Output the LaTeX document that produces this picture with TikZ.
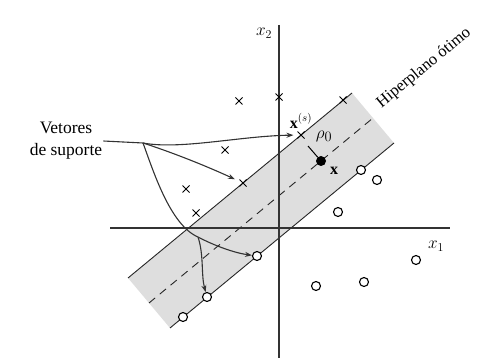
\documentclass[tikz,border=0pt]{standalone}
\usepackage{fontspec}
\setmainfont{Liberation Serif}
\usetikzlibrary{arrows.meta, shapes.misc, calc}
\tikzset{
  axis/.style={line width=1.8pt, draw=black!80},
  margin/.style={line width=0.9pt, draw=black!85},
  hyper/.style={line width=0.9pt, draw=black!85, dash pattern=on 8pt off 6pt},
  flow/.style={-{Stealth[length=7pt, width=5pt]}, line width=1.1pt, draw=black!80},
  xmark/.style={cross out, draw, line width=1pt, minimum size=6pt, inner sep=0pt},
  omark/.style={circle, draw, line width=1.1pt, fill=white, minimum size=9pt, inner sep=0pt},
  lab/.style={font=\fontsize{17.5}{22}\selectfont, inner sep=1pt},
  slab/.style={font=\fontsize{16}{18}\selectfont, inner sep=1pt},
}
\begin{document}
\begin{tikzpicture}[x=1pt, y=-1pt]
  \useasboundingbox (0,0) rectangle (477,358);
  % margin band
  \coordinate (u1) at (128,278); \coordinate (u2) at (352,93);
  \coordinate (l1) at (170,328); \coordinate (l2) at (394,143);
  \fill[black!13] (u1) -- (u2) -- (l2) -- (l1) -- cycle;
  \draw[margin] (u1) -- (u2);
  \draw[margin] (l1) -- (l2);
  \draw[hyper] ($(u1)!0.5!(l1)$) -- ($(u2)!0.5!(l2)$);
  % axes
  \coordinate (ax1) at (110,228); \coordinate (ax2) at (450,228);
  \coordinate (ay1) at (279,25); \coordinate (ay2) at (279,358);
  \draw[axis] (ax1) -- (ax2);
  \draw[axis] (ay1) -- (ay2);
  \node[lab] (x1) at (436,246) {$x_1$};
  \node[lab] (x2) at (264,33) {$x_2$};
  \node[lab, font=\fontsize{16.5}{20}\selectfont, rotate=39.6] (hyp) at (424,68) {Hiperplano ótimo};
  % class 1
  \node[xmark] (c1) at (239,101) {};
  \node[xmark] (c2) at (279,97) {};
  \node[xmark] (c3) at (225,150) {};
  \node[xmark] (c4) at (186,189) {};
  \node[xmark] (c5) at (196,213) {};
  \node[xmark] (s1) at (301,135) {};
  \node[xmark] (s2) at (243,183) {};
  \node[xmark] (s3) at (343,100) {};
  % class 2
  \node[omark] (o1) at (257,256) {};
  \node[omark] (o2) at (207,297) {};
  \node[omark] (o3) at (183,317) {};
  \node[omark] (o4) at (361,170) {};
  \node[omark] (o5) at (377,180) {};
  \node[omark] (o6) at (338,212) {};
  \node[omark] (o7) at (416,260) {};
  \node[omark] (o8) at (364,282) {};
  \node[omark] (o9) at (316,286) {};
  % test point
  \node[circle, fill=black, minimum size=10pt, inner sep=0pt] (xp) at (321,161) {};
  \node[slab] (xpl) at (334,171) {$\mathbf{x}$};
  \node[lab, font=\fontsize{19}{22}\selectfont] (rho) at (324,136) {$\rho_0$};
  \node[slab] (xsl) at (301,121) {$\mathbf{x}^{(s)}$};
  \coordinate (rs) at (308,146);
  \draw[line width=1pt] (rs) -- (xp);
  % support vector labels
  \node[lab, align=center] (vs) at (66,141) {Vetores\\de suporte};
  \coordinate (br) at (143,143);
  \coordinate (jn) at (198,237);
  \draw[flow, shorten >=4pt] (vs.east) -- (br) .. controls (180,150) and (240,136) .. (s1);
  \draw[flow, shorten >=5pt] (br) .. controls (180,155) and (215,170) .. (s2);
  \draw[flow] (br) .. controls (153,170) and (170,225) .. (jn)
    .. controls (215,246) and (235,253) .. (o1);
  \draw[flow] (jn) .. controls (204,255) and (201,275) .. (o2);
\end{tikzpicture}
\end{document}
